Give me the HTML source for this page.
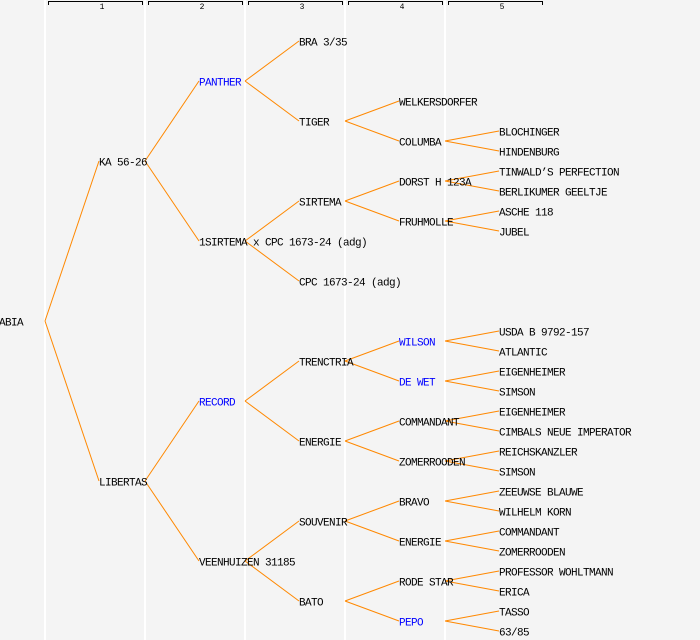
<!DOCTYPE html>
<html><head><meta charset="utf-8"><style>
html,body{margin:0;padding:0;background:#f4f4f4;}
svg{display:block}
text{font-family:"Liberation Mono",monospace;font-size:11px;letter-spacing:-0.6px;fill:#000}
.b{fill:#0000ff}
.h{font-size:8px;letter-spacing:0}
</style></head><body>
<svg width="700" height="640" viewBox="0 0 700 640" xmlns="http://www.w3.org/2000/svg">
<rect width="700" height="640" fill="#f4f4f4"/>
<g stroke="#ffffff" stroke-width="2">
<line x1="45" y1="0" x2="45" y2="640"/><line x1="145" y1="0" x2="145" y2="640"/><line x1="245" y1="0" x2="245" y2="640"/><line x1="345" y1="0" x2="345" y2="640"/><line x1="445" y1="0" x2="445" y2="640"/>
</g>
<g stroke="#000" fill="none" stroke-width="1" shape-rendering="crispEdges">
<path d="M48.5 5V1.5H142.5V5"/><path d="M148.5 5V1.5H242.5V5"/><path d="M248.5 5V1.5H342.5V5"/><path d="M348.5 5V1.5H442.5V5"/><path d="M448.5 5V1.5H542.5V5"/>
</g>
<g text-anchor="middle">
<text class="h" x="102" y="9">1</text><text class="h" x="202" y="9">2</text><text class="h" x="302" y="9">3</text><text class="h" x="402" y="9">4</text><text class="h" x="502" y="9">5</text>
</g>
<g stroke="#ff8800" stroke-width="1">
<line x1="45" y1="321" x2="99" y2="161"/><line x1="45" y1="321" x2="99" y2="481"/>
<line x1="145" y1="161" x2="199" y2="81"/><line x1="145" y1="161" x2="199" y2="241"/>
<line x1="145" y1="481" x2="199" y2="401"/><line x1="145" y1="481" x2="199" y2="561"/>
<line x1="245" y1="81" x2="299" y2="41"/><line x1="245" y1="81" x2="299" y2="121"/>
<line x1="245" y1="241" x2="299" y2="201"/><line x1="245" y1="241" x2="299" y2="281"/>
<line x1="245" y1="401" x2="299" y2="361"/><line x1="245" y1="401" x2="299" y2="441"/>
<line x1="245" y1="561" x2="299" y2="521"/><line x1="245" y1="561" x2="299" y2="601"/>
<line x1="345" y1="121" x2="399" y2="101"/><line x1="345" y1="121" x2="399" y2="141"/>
<line x1="345" y1="201" x2="399" y2="181"/><line x1="345" y1="201" x2="399" y2="221"/>
<line x1="345" y1="361" x2="399" y2="341"/><line x1="345" y1="361" x2="399" y2="381"/>
<line x1="345" y1="441" x2="399" y2="421"/><line x1="345" y1="441" x2="399" y2="461"/>
<line x1="345" y1="521" x2="399" y2="501"/><line x1="345" y1="521" x2="399" y2="541"/>
<line x1="345" y1="601" x2="399" y2="581"/><line x1="345" y1="601" x2="399" y2="621"/>
<line x1="445" y1="141" x2="499" y2="131"/><line x1="445" y1="141" x2="499" y2="151"/>
<line x1="445" y1="181" x2="499" y2="171"/><line x1="445" y1="181" x2="499" y2="191"/>
<line x1="445" y1="221" x2="499" y2="211"/><line x1="445" y1="221" x2="499" y2="231"/>
<line x1="445" y1="341" x2="499" y2="331"/><line x1="445" y1="341" x2="499" y2="351"/>
<line x1="445" y1="381" x2="499" y2="371"/><line x1="445" y1="381" x2="499" y2="391"/>
<line x1="445" y1="421" x2="499" y2="411"/><line x1="445" y1="421" x2="499" y2="431"/>
<line x1="445" y1="461" x2="499" y2="451"/><line x1="445" y1="461" x2="499" y2="471"/>
<line x1="445" y1="501" x2="499" y2="491"/><line x1="445" y1="501" x2="499" y2="511"/>
<line x1="445" y1="541" x2="499" y2="531"/><line x1="445" y1="541" x2="499" y2="551"/>
<line x1="445" y1="581" x2="499" y2="571"/><line x1="445" y1="581" x2="499" y2="591"/>
<line x1="445" y1="621" x2="499" y2="611"/><line x1="445" y1="621" x2="499" y2="631"/>
</g>
<g transform="translate(0,-0.5)">
<text x="-1" y="326">ABIA</text>
<text x="99" y="166">KA 56-26</text>
<text x="99" y="486">LIBERTAS</text>
<text class="b" x="199" y="86">PANTHER</text>
<text x="199" y="246">1SIRTEMA x CPC 1673-24 (adg)</text>
<text class="b" x="199" y="406">RECORD</text>
<text x="199" y="566">VEENHUIZEN 31185</text>
<text x="299" y="46">BRA 3/35</text>
<text x="299" y="126">TIGER</text>
<text x="299" y="206">SIRTEMA</text>
<text x="299" y="286">CPC 1673-24 (adg)</text>
<text x="299" y="366">TRENCTRIA</text>
<text x="299" y="446">ENERGIE</text>
<text x="299" y="526">SOUVENIR</text>
<text x="299" y="606">BATO</text>
<text x="399" y="106">WELKERSDORFER</text>
<text x="399" y="146">COLUMBA</text>
<text x="399" y="186">DORST H 123A</text>
<text x="399" y="226">FRUHMOLLE</text>
<text class="b" x="399" y="346">WILSON</text>
<text class="b" x="399" y="386">DE WET</text>
<text x="399" y="426">COMMANDANT</text>
<text x="399" y="466">ZOMERROODEN</text>
<text x="399" y="506">BRAVO</text>
<text x="399" y="546">ENERGIE</text>
<text x="399" y="586">RODE STAR</text>
<text class="b" x="399" y="626">PEPO</text>
<text x="499" y="136">BLOCHINGER</text>
<text x="499" y="156">HINDENBURG</text>
<text x="499" y="176">TINWALD’S PERFECTION</text>
<text x="499" y="196">BERLIKUMER GEELTJE</text>
<text x="499" y="216">ASCHE 118</text>
<text x="499" y="236">JUBEL</text>
<text x="499" y="336">USDA B 9792-157</text>
<text x="499" y="356">ATLANTIC</text>
<text x="499" y="376">EIGENHEIMER</text>
<text x="499" y="396">SIMSON</text>
<text x="499" y="416">EIGENHEIMER</text>
<text x="499" y="436">CIMBALS NEUE IMPERATOR</text>
<text x="499" y="456">REICHSKANZLER</text>
<text x="499" y="476">SIMSON</text>
<text x="499" y="496">ZEEUWSE BLAUWE</text>
<text x="499" y="516">WILHELM KORN</text>
<text x="499" y="536">COMMANDANT</text>
<text x="499" y="556">ZOMERROODEN</text>
<text x="499" y="576">PROFESSOR WOHLTMANN</text>
<text x="499" y="596">ERICA</text>
<text x="499" y="616">TASSO</text>
<text x="499" y="636">63/85</text>
</g>
</svg>
</body></html>
